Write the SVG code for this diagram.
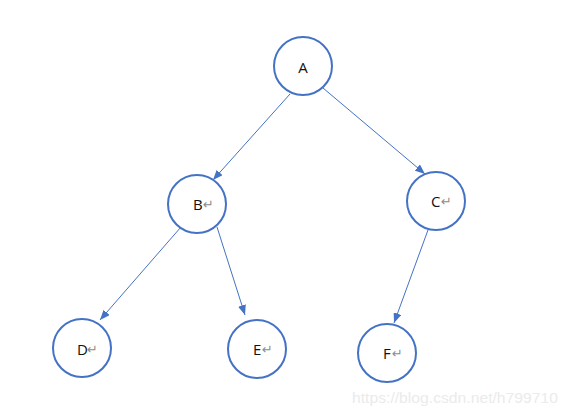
<svg xmlns="http://www.w3.org/2000/svg" width="568" height="415" viewBox="0 0 568 415">
<defs>
<marker id="arr" viewBox="0 0 10 8" refX="10" refY="4" markerWidth="10" markerHeight="8" markerUnits="userSpaceOnUse" orient="auto">
<path d="M0,0 L10,4 L0,8 Z" fill="#4472C4"/>
</marker>
<style>
.node{fill:#fff;stroke:#4472C4;stroke-width:2}
.lbl{font-family:"Open Sans","Liberation Sans",sans-serif;font-size:15px;fill:#111}
.ret{font-family:"DejaVu Sans",sans-serif;font-size:13px;fill:#8c8c8c}
.edge{stroke:#4472C4;stroke-width:1;fill:none;marker-end:url(#arr)}
</style>
</defs>
<rect width="568" height="415" fill="#fff"/>
<g id="connectors">
<line class="edge" x1="290" y1="94" x2="213" y2="180"/>
<line class="edge" x1="323" y1="88" x2="425" y2="174"/>
<line class="edge" x1="181" y1="227" x2="100" y2="320"/>
<line class="edge" x1="217" y1="227" x2="245" y2="315"/>
<line class="edge" x1="428" y1="230" x2="394" y2="323"/>
</g>
<g id="A"><circle class="node" cx="303" cy="66" r="29"/><text class="lbl" x="303" y="73" text-anchor="middle">A</text></g>
<g id="B"><circle class="node" cx="197" cy="204" r="29"/><text class="lbl" x="193" y="210">B</text><text class="ret" x="203" y="209">↵</text></g>
<g id="C"><circle class="node" cx="436" cy="201" r="29"/><text class="lbl" x="431" y="207">C</text><text class="ret" x="441" y="206">↵</text></g>
<g id="D"><circle class="node" cx="82" cy="348" r="29"/><text class="lbl" x="77" y="355">D</text><text class="ret" x="87" y="354">↵</text></g>
<g id="E"><circle class="node" cx="257" cy="349" r="29"/><text class="lbl" x="253" y="355">E</text><text class="ret" x="262" y="354">↵</text></g>
<g id="F"><circle class="node" cx="387" cy="353" r="29"/><text class="lbl" x="383" y="359">F</text><text class="ret" x="392" y="358">↵</text></g>
<text x="352" y="403" font-family="Liberation Sans, Arial, sans-serif" font-size="14" fill="#ebebeb" textLength="206" lengthAdjust="spacingAndGlyphs">https://blog.csdn.net/h799710</text>
</svg>
